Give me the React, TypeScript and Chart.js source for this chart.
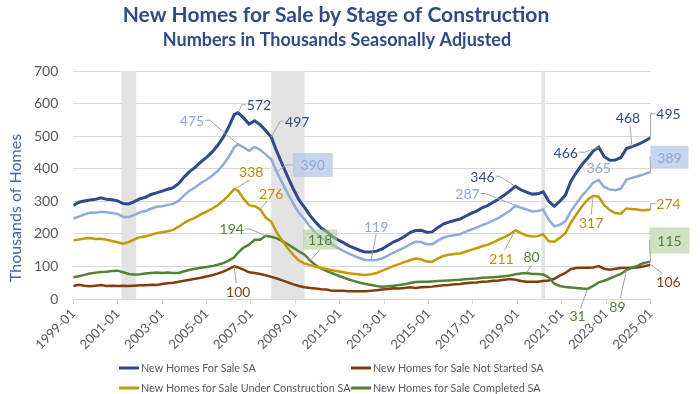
import React, { useEffect, useRef } from "react";
import { Chart, registerables } from "chart.js";

Chart.register(...registerables);

// ---------- DATA ----------
const months = [
  "1999-01","1999-04","1999-07","1999-10",
  "2000-01","2000-04","2000-07","2000-10",
  "2001-01","2001-04","2001-07","2001-10",
  "2002-01","2002-04","2002-07","2002-10",
  "2003-01","2003-04","2003-07","2003-10",
  "2004-01","2004-04","2004-07","2004-10",
  "2005-01","2005-04","2005-07","2005-10",
  "2006-01","2006-04","2006-06","2006-09","2006-12",
  "2007-03","2007-06","2007-09","2007-12",
  "2008-03","2008-06","2008-09","2008-12",
  "2009-03","2009-06","2009-09","2009-12",
  "2010-03","2010-06","2010-09","2010-12",
  "2011-03","2011-06","2011-09","2011-12",
  "2012-03","2012-06","2012-09","2012-12",
  "2013-03","2013-06","2013-09","2013-12",
  "2014-03","2014-06","2014-09","2014-12",
  "2015-03","2015-06","2015-09","2015-12",
  "2016-03","2016-06","2016-09","2016-12",
  "2017-03","2017-06","2017-09","2017-12",
  "2018-03","2018-06","2018-09","2018-12",
  "2019-03","2019-06","2019-09","2019-12",
  "2020-03","2020-06","2020-09","2020-12",
  "2021-03","2021-06","2021-09","2021-12",
  "2022-03","2022-06","2022-09","2022-12",
  "2023-03","2023-06","2023-09","2023-12",
  "2024-03","2024-06","2024-09","2024-12",
  "2025-01",
];

const totalForSale = [
  287,297,301,304,306,311,306,305,301,293,292,299,308,312,321,326,331,337,342,355,375,392,405,421,435,451,471,496,528,
  566,572,556,537,547,535,517,497,
  453,413,374,337,304,281,256,236,218,207,
  192,182,173,163,156,149,144,144,147,154,
  164,175,182,192,204,210,211,205,206,219,
  230,236,241,245,254,263,270,280,287,297,
  307,319,332,346,335,328,322,323,329,300,
  285,300,319,362,389,413,432,454,466,437,
  426,427,434,462,468,474,482,492,495,
];

const notStarted = [
  40,44,41,39,41,43,40,41,40,41,40,41,42,42,44,43,46,48,50,53,56,59,62,65,69,73,78,84,92,
  100,97,90,82,80,77,73,68,
  63,57,51,45,40,36,34,32,30,29,
  25,25,25,24,24,24,24,25,27,29,
  31,33,32,34,36,34,36,37,38,40,
  42,43,45,46,48,50,51,53,54,56,
  57,59,61,59,55,53,53,53,55,57,
  62,72,80,92,95,96,96,97,101,93,
  90,93,95,95,96,97,100,104,106,
];

const underConstruction = [
  180,183,186,187,184,185,182,178,174,170,175,183,190,192,197,202,205,208,212,222,234,243,250,260,268,277,288,302,318,
  338,333,308,288,285,276,250,238,
  204,178,155,135,118,109,104,100,95,92,
  88,85,82,79,77,75,74,76,80,87,
  94,101,107,113,119,124,122,115,114,124,
  132,136,138,140,145,151,156,162,167,174,
  182,190,199,211,202,195,192,193,199,177,
  176,188,202,235,260,285,305,317,314,288,
  273,264,262,278,276,275,272,274,274,
];

const completed = [
  67,70,74,78,81,83,84,86,87,82,77,75,76,78,80,81,80,81,80,80,85,90,93,96,98,101,105,110,118,
  128,142,158,167,182,182,194,191,
  186,178,168,157,146,136,118,104,93,86,
  79,72,66,60,55,50,46,43,40,38,
  39,41,43,45,49,52,53,53,54,55,
  56,57,58,59,61,62,63,65,66,67,
  68,70,72,76,78,80,77,77,75,66,
  47,40,37,35,34,32,31,40,51,56,
  63,70,77,89,96,102,110,114,115,
];

// Under construction + completed (unlabelled light-blue line)
const ucPlusCompleted = [
  247,253,260,265,265,268,266,264,261,252,252,258,266,270,277,283,285,289,292,302,319,333,343,356,366,378,393,412,436,
  466,475,466,455,467,458,444,429,
  390,356,323,292,264,245,222,204,188,178,
  167,157,148,139,132,125,120,119,120,125,
  133,142,150,158,168,176,175,168,168,179,
  188,193,196,199,206,213,219,227,233,241,
  250,260,271,287,280,275,269,270,274,243,
  223,228,239,270,294,317,336,357,365,344,
  336,334,339,367,372,377,382,388,389,
];

const xTickLabels = [
  "1999-01","2001-01","2003-01","2005-01","2007-01","2009-01","2011-01",
  "2013-01","2015-01","2017-01","2019-01","2021-01","2023-01","2025-01",
];

const recessions = [
  ["2001-03", "2001-11"],
  ["2007-12", "2009-06"],
  ["2020-02", "2020-04"],
];

const titleText = "New Homes for Sale by Stage of Construction";
const subtitleText = "Numbers in Thousands Seasonally Adjusted";
const yTitle = "Thousands of Homes";

const legendNames = {
  total: "New Homes For Sale SA",
  ns: "New Homes for Sale Not Started SA",
  uc: "New Homes for Sale Under Construction SA",
  comp: "New Homes for Sale Completed SA",
};

// ---------- STYLE ----------
const FONT = "Lato, 'Liberation Sans', sans-serif";
const lineColors = {
  total: "#2E4A8B",
  lbl: "#8FAADC",
  uc: "#C49A00",
  comp: "#548235",
  ns: "#843C0C",
};
const labelColors = {
  total: "#2F4B8C",
  lbl: "#8EA9DB",
  uc: "#BF9000",
  comp: "#548235",
  ns: "#843C0C",
};
const seriesMap: Record<string, number[]> = {
  total: totalForSale,
  lbl: ucPlusCompleted,
  uc: underConstruction,
  comp: completed,
  ns: notStarted,
};

const BLUE_BOX = "rgba(180,199,231,0.75)";
const GREEN_BOX = "rgba(175,205,155,0.6)";

// label placement relative to the data point (pixels), leader start relative to label
const annotations: any[] = [
  { s: "total", m: "2006-06", dx: 21, dy: -8, lead: [-13, 0], stub: -4 },
  { s: "total", m: "2007-12", dx: 26, dy: -16, lead: [-13, 0], stub: -4 },
  { s: "lbl", m: "2006-06", dx: -46, dy: -24, lead: [13, 0], stub: 5 },
  { s: "lbl", m: "2008-03", dx: 36, dy: -7, lead: [-20, 0], stub: -7, box: BLUE_BOX, bw: 40, bh: 24 },
  { s: "uc", m: "2006-04", dx: 17, dy: -17, lead: [-1, 8] },
  { s: "uc", m: "2007-06", dx: 11, dy: -16, lead: [-4, 8] },
  { s: "comp", m: "2007-09", dx: -34, dy: -7, lead: [13, 0], stub: 5 },
  { s: "comp", m: "2009-09", dx: 10, dy: -21, lead: [0, 10], box: GREEN_BOX, bw: 34, bh: 20 },
  { s: "ns", m: "2006-04", dx: 4, dy: 25, lead: [-2, -8] },
  { s: "lbl", m: "2012-06", dx: 5, dy: -34, lead: [0, 8] },
  { s: "total", m: "2018-12", dx: -33, dy: -10, lead: [13, 0], stub: 4 },
  { s: "lbl", m: "2018-12", dx: -48, dy: -12, lead: [13, 0], stub: 5 },
  { s: "uc", m: "2018-12", dx: -14, dy: 28, lead: [3, -8] },
  { s: "comp", m: "2019-06", dx: 5, dy: -16, lead: [0, 8] },
  { s: "total", m: "2022-09", dx: -33, dy: 5, lead: [13, 0], stub: 6 },
  { s: "lbl", m: "2022-09", dx: 0, dy: -13 },
  { s: "uc", m: "2022-06", dx: -2, dy: 27, lead: [0, -8] },
  { s: "total", m: "2024-03", dx: -4, dy: -29, lead: [2, 8] },
  { s: "total", m: "2025-01", dx: 18, dy: -24, lead: [-13, 0], stub: -5 },
  { s: "lbl", m: "2025-01", dx: 19, dy: -15, lead: [-18.5, 0], stub: -1, box: BLUE_BOX, bw: 38, bh: 23 },
  { s: "uc", m: "2025-01", dx: 18, dy: -6, lead: [-13, 0], stub: -5 },
  { s: "comp", m: "2025-01", dx: 19, dy: -21, lead: [-19, 0], stub: -1, box: GREEN_BOX, bw: 40, bh: 26 },
  { s: "ns", m: "2025-01", dx: 18, dy: 17, lead: [-6, -8] },
  { s: "comp", m: "2022-03", dx: -10, dy: 27, lead: [3, -8] },
  { s: "comp", m: "2023-12", dx: -9, dy: 36, lead: [3, -8] },
];

function monthIndex(s: string) {
  const [y, m] = s.split("-").map(Number);
  return (y - 1999) * 12 + (m - 1);
}

function points(series: number[]) {
  return months.map((m, i) => ({ x: monthIndex(m), y: series[i] }));
}

const recessionPlugin = {
  id: "recessions",
  beforeDatasetsDraw(chart: any) {
    const { ctx, chartArea, scales } = chart;
    ctx.save();
    ctx.fillStyle = "#E3E3E3";
    for (const [a, b] of recessions) {
      const x1 = scales.x.getPixelForValue(monthIndex(a));
      const x2 = scales.x.getPixelForValue(monthIndex(b));
      ctx.fillRect(x1, chartArea.top, x2 - x1, chartArea.bottom - chartArea.top);
    }
    ctx.restore();
  },
};

const annotationPlugin = {
  id: "annots",
  afterDatasetsDraw(chart: any) {
    const { ctx, scales } = chart;
    ctx.save();
    ctx.font = `14px ${FONT}`;
    ctx.textAlign = "center";
    ctx.textBaseline = "middle";
    for (const a of annotations) {
      const i = months.indexOf(a.m);
      const v = seriesMap[a.s][i];
      const px = scales.x.getPixelForValue(monthIndex(a.m));
      const py = scales.y.getPixelForValue(v);
      const cx = px + a.dx;
      const cy = py + a.dy;
      if (a.box) {
        ctx.fillStyle = a.box;
        ctx.fillRect(cx - a.bw / 2, cy - a.bh / 2, a.bw, a.bh);
      }
      if (a.lead) {
        ctx.strokeStyle = "#A6A6A6";
        ctx.lineWidth = 1;
        ctx.beginPath();
        const sx = cx + a.lead[0];
        const sy = cy + a.lead[1];
        ctx.moveTo(sx, sy);
        if (a.stub) ctx.lineTo(sx + a.stub, sy);
        ctx.lineTo(px, py);
        ctx.stroke();
      }
      ctx.fillStyle = (labelColors as any)[a.s];
      ctx.fillText(String(v), cx, cy + 1);
    }
    ctx.restore();
  },
};

const decorPlugin = {
  id: "decor",
  afterDraw(chart: any) {
    const { ctx, width, height } = chart;
    ctx.save();
    // titles
    ctx.textAlign = "center";
    ctx.textBaseline = "middle";
    ctx.fillStyle = "#2F4B8A";
    ctx.font = `bold 21px ${FONT}`;
    ctx.fillText(titleText, width / 2 - 14, 15);
    ctx.font = `bold 18px ${FONT}`;
    ctx.fillText(subtitleText, width / 2 - 13, 40);
    // y title
    ctx.save();
    ctx.translate(16, 208);
    ctx.rotate(-Math.PI / 2);
    ctx.fillStyle = "#3F66AC";
    ctx.font = `16px ${FONT}`;
    ctx.fillText(yTitle, 0, 0);
    ctx.restore();
    // legend
    const items = [
      ["total", 119, height - 26],
      ["ns", 351, height - 26],
      ["uc", 119, height - 6],
      ["comp", 351, height - 6],
    ] as const;
    ctx.textAlign = "left";
    ctx.font = `10.8px ${FONT}`;
    for (const [k, lx, ly] of items) {
      ctx.strokeStyle = (lineColors as any)[k];
      ctx.lineWidth = 3;
      ctx.beginPath();
      ctx.moveTo(lx, ly);
      ctx.lineTo(lx + 20, ly);
      ctx.stroke();
      ctx.fillStyle = "#595959";
      ctx.fillText((legendNames as any)[k], lx + 22, ly + 1);
    }
    ctx.restore();
  },
};

export default function App() {
  const ref = useRef<HTMLCanvasElement | null>(null);

  useEffect(() => {
    if (!ref.current) return;
    const ds = (key: string, label: string, data: number[], w: number) => ({
      label,
      data: points(data),
      borderColor: (lineColors as any)[key],
      backgroundColor: (lineColors as any)[key],
      borderWidth: w,
      pointRadius: 0,
      tension: 0,
      fill: false,
    });
    const chart = new Chart(ref.current, {
      type: "line",
      data: {
        datasets: [
          ds("total", legendNames.total, totalForSale, 3),
          ds("lbl", "Under Construction + Completed", ucPlusCompleted, 2.5),
          ds("uc", legendNames.uc, underConstruction, 2.5),
          ds("comp", legendNames.comp, completed, 2.5),
          ds("ns", legendNames.ns, notStarted, 2.5),
        ],
      },
      options: {
        animation: false,
        responsive: false,
        devicePixelRatio: 1,
        layout: { padding: { left: 0, right: 49.5, top: 71, bottom: 0 } },
        plugins: {
          legend: { display: false },
          title: { display: false },
          tooltip: { enabled: false },
        },
        scales: {
          x: {
            type: "linear",
            min: 0,
            max: monthIndex("2025-01"),
            afterBuildTicks: (scale: any) => {
              scale.ticks = xTickLabels.map((l) => ({ value: monthIndex(l), label: l }));
            },
            afterFit: (scale: any) => {
              scale.height = 95;
            },
            ticks: {
              autoSkip: false,
              minRotation: 45,
              maxRotation: 45,
              padding: 2,
              color: "#595959",
              font: { family: FONT, size: 13 },
              callback: (v: any) => {
                const i = xTickLabels.findIndex((l) => monthIndex(l) === v);
                return i >= 0 ? xTickLabels[i] : "";
              },
            },
            grid: {
              drawOnChartArea: false,
              drawTicks: true,
              tickLength: 5,
              color: "#D9D9D9",
            },
            border: { display: true, color: "#D9D9D9" },
          },
          y: {
            min: 0,
            max: 700,
            afterFit: (scale: any) => {
              scale.width = 73.3;
            },
            ticks: {
              stepSize: 100,
              padding: 15,
              color: "#595959",
              font: { family: FONT, size: 14 },
            },
            grid: { color: "#D9D9D9", drawTicks: false },
            border: { display: false },
          },
        },
      },
      plugins: [recessionPlugin, annotationPlugin, decorPlugin],
    } as any);
    return () => chart.destroy();
  }, []);

  return (
    <div style={{ position: "fixed", left: 0, top: 0, width: 700, height: 394, background: "#fff" }}>
      <canvas ref={ref} width={700} height={394} />
    </div>
  );
}
